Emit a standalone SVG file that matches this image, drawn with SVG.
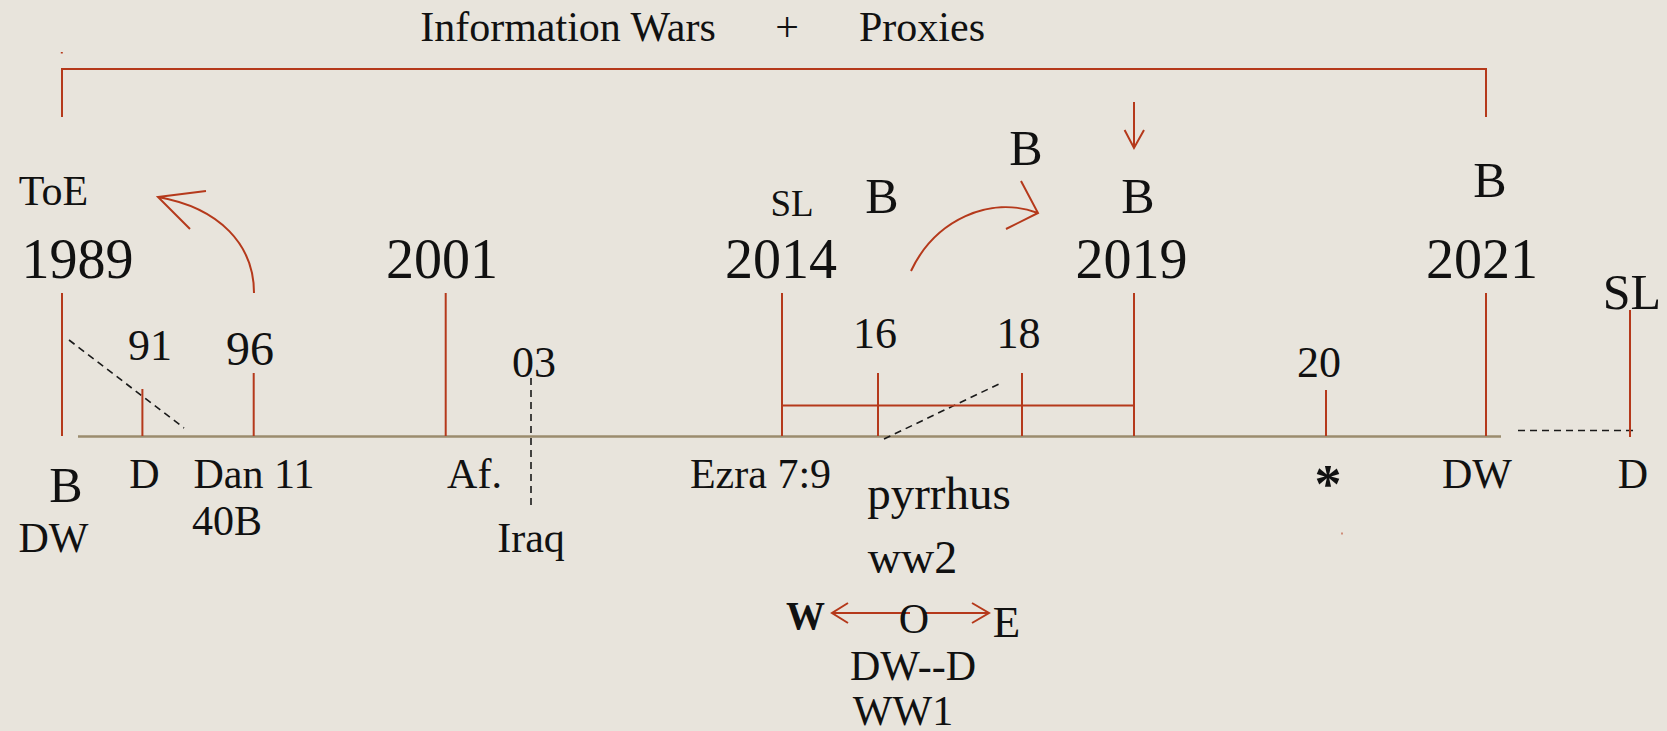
<svg xmlns="http://www.w3.org/2000/svg" width="1667" height="731" viewBox="0 0 1667 731">
<style>
text{font-family:"Liberation Serif","Times New Roman",serif;fill:#111;text-anchor:middle}
.yr{font-size:56px}
.lb{font-size:42px}
.bb{font-size:50px}
.num{font-size:44px}
.tick{stroke:#B5391B;stroke-width:2;fill:none}
.red{stroke:#B5391B;stroke-width:2;fill:none}
.dash{stroke:#1a1a1a;stroke-width:1.6;stroke-dasharray:7 5;fill:none}
.axis{stroke:#9B8C6E;stroke-width:2.5}
</style>
<rect width="1667" height="731" fill="#E8E4DC"/>
<g id="title">
<text x="568" y="41" style="font-size:42px">Information Wars</text>
<text x="787" y="41" style="font-size:42px">+</text>
<text x="922" y="41" style="font-size:42px">Proxies</text>
</g>
<g id="connectors">
<line class="axis" x1="78" y1="436.5" x2="1501" y2="436.5"/>
<path class="red" d="M62,117 V69 H1486 V117"/>
<line class="red" x1="61.8" y1="52" x2="61.8" y2="53.5" stroke-width="1"/>
<path class="red" d="M254,293 C254,245 220,208 158,197 M206,191 L158,197 L190,229"/>
<path class="red" d="M911,271 C935,220 990,195 1038,213 M1021,181 L1038,213 L1006,229"/>
<path class="red" d="M1134,102 V148 M1124.6,130 L1134,148 L1144,130"/>
<path class="red" d="M910,613 H832 M848,603 L832,613 L848,623 M926,613 H989 M972,603 L989,613 L972,623"/>
<line class="dash" x1="69" y1="340" x2="184" y2="428"/>
<line class="dash" x1="531" y1="378" x2="531" y2="510"/>
<line class="dash" x1="884" y1="439" x2="1001" y2="383"/>
<line class="dash" x1="1518" y1="430.5" x2="1633" y2="430.5"/>
<line class="red" x1="782" y1="405.5" x2="1134" y2="405.5"/>
<line class="red" x1="1341.5" y1="533.5" x2="1342.5" y2="533.5" stroke-width="1"/>
</g>
<g id="n1989">
<text x="53.5" y="205" style="font-size:42px">ToE</text>
<text class="yr" x="77.5" y="278">1989</text>
<line class="tick" x1="62" y1="293" x2="62" y2="436"/>
<text class="bb" x="66" y="502">B</text>
<text class="lb" x="53.5" y="552">DW</text>
</g>
<g id="n91">
<text class="num" x="150" y="360">91</text>
<line class="tick" x1="142.4" y1="389" x2="142.4" y2="436"/>
<text class="lb" x="144.5" y="488">D</text>
</g>
<g id="n96">
<text x="250" y="365" style="font-size:48px">96</text>
<line class="tick" x1="253.7" y1="373" x2="253.7" y2="436"/>
<text class="lb" x="254" y="488">Dan 11</text>
<text class="lb" x="227" y="535">40B</text>
</g>
<g id="n2001">
<text class="yr" x="442" y="278">2001</text>
<line class="tick" x1="445.7" y1="293" x2="445.7" y2="436"/>
<text class="lb" x="474.5" y="488">Af.</text>
</g>
<g id="n03">
<text class="num" x="534" y="376.7">03</text>
<text class="lb" x="531" y="552">Iraq</text>
</g>
<g id="n2014">
<text x="792" y="216" style="font-size:37px">SL</text>
<text class="yr" x="781" y="278">2014</text>
<line class="tick" x1="782" y1="293" x2="782" y2="436"/>
<text class="lb" x="760.5" y="488">Ezra 7:9</text>
</g>
<g id="nB2014"><text class="bb" x="882" y="213">B</text></g>
<g id="nBup"><text class="bb" x="1026" y="165">B</text></g>
<g id="n16">
<text class="num" x="875" y="348">16</text>
<line class="tick" x1="878" y1="373" x2="878" y2="436"/>
</g>
<g id="n18">
<text class="num" x="1018.5" y="348">18</text>
<line class="tick" x1="1022" y1="373" x2="1022" y2="436"/>
</g>
<g id="nPyrrhus">
<text x="939" y="509" style="font-size:47px">pyrrhus</text>
<text x="912.5" y="573" style="font-size:46px">ww2</text>
<text x="805.5" y="629" style="font-size:39px;font-weight:bold">W</text>
<text x="914" y="633" style="font-size:42px">O</text>
<text x="1006.5" y="637" style="font-size:45px">E</text>
<text class="lb" x="913" y="680">DW--D</text>
<text class="lb" x="903" y="725">WW1</text>
</g>
<g id="n2019">
<text class="bb" x="1138" y="213">B</text>
<text class="yr" x="1131.5" y="278">2019</text>
<line class="tick" x1="1134" y1="293" x2="1134" y2="436"/>
</g>
<g id="n20">
<text class="num" x="1319" y="376.7">20</text>
<line class="tick" x1="1326" y1="390" x2="1326" y2="436"/>
<text x="1328" y="502" style="font-size:54px;font-weight:bold">*</text>
</g>
<g id="n2021">
<text class="bb" x="1490" y="197">B</text>
<text class="yr" x="1482" y="278">2021</text>
<line class="tick" x1="1486" y1="293" x2="1486" y2="436"/>
<text class="lb" x="1477" y="488">DW</text>
</g>
<g id="nSL">
<text class="bb" x="1632" y="309">SL</text>
<line class="tick" x1="1630" y1="310" x2="1630" y2="437"/>
<text class="lb" x="1633" y="488">D</text>
</g>
</svg>
